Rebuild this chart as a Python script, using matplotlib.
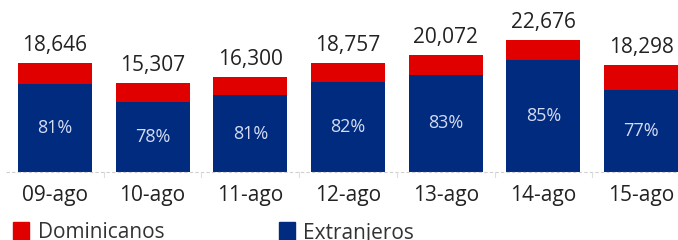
import matplotlib.pyplot as plt
from matplotlib.patches import Rectangle

# data
dates = ["09-ago", "10-ago", "11-ago", "12-ago", "13-ago", "14-ago", "15-ago"]
totals = [18646, 15307, 16300, 18757, 20072, 22676, 18298]
pct_extranjeros = [81, 78, 81, 82, 83, 85, 77]

red = "#e00000"
blue = "#002b7f"

plt.rcParams["font.family"] = ["Open Sans", "DejaVu Sans"]

W, H = 678, 240
fig = plt.figure(figsize=(W / 100, H / 100), dpi=100)

# axes in pixel terms: baseline at y=172, bars 74px wide on a 97.7px pitch
base_px = 172
ax = fig.add_axes([6 / W, (H - base_px) / H, 672 / W, base_px / H])

extranjeros = [t * p / 100 for t, p in zip(totals, pct_extranjeros)]
dominicanos = [t - e for t, e in zip(totals, extranjeros)]
x = list(range(len(dates)))
bw = 74 / 97.7

ax.bar(x, extranjeros, width=bw, color=blue)
ax.bar(x, dominicanos, width=bw, bottom=extranjeros, color=red)

for i in x:
    ax.text(i, totals[i] + 1200, f"{totals[i]:,}", ha="center", va="bottom",
            fontsize=15, color="#222222")
    ax.text(i, extranjeros[i] / 2, f"{pct_extranjeros[i]}%", ha="center",
            va="center", fontsize=13, color="#d5dcf2")

ax.set_xlim(-0.5, 6.5 - 12 / 97.7)
ax.set_ylim(0, base_px * 171.5)

for s in ax.spines.values():
    s.set_visible(False)
ax.axhline(0, color="#cfcfcf", lw=0.8, ls=(0, (3, 2)), clip_on=False)
ax.set_yticks([])
ax.set_xticks(x)
ax.set_xticklabels(dates, fontsize=15, color="#222222")
ax.tick_params(axis="x", length=0, pad=9)
for sep in [i + 0.5 for i in x[:-1]]:
    ax.plot([sep, sep], [0, -900], color="#dddddd", lw=0.8, clip_on=False)

# legend drawn by hand along the bottom edge
fig.patches.append(Rectangle((13 / W, 0), 16 / W, 18 / H, color=red,
                             transform=fig.transFigure, figure=fig))
fig.text(38 / W, 7 / H, "Dominicanos", fontsize=15, color="#333333", va="center")
fig.patches.append(Rectangle((279 / W, 0), 16 / W, 18 / H, color=blue,
                             transform=fig.transFigure, figure=fig))
fig.text(303 / W, 7 / H, "Extranjeros", fontsize=15, color="#333333", va="center")

fig.savefig("out.png", dpi=100)
